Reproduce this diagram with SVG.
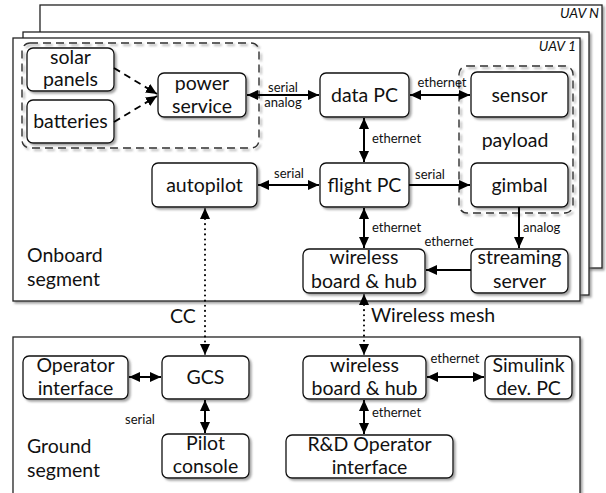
<svg xmlns="http://www.w3.org/2000/svg" width="606" height="493" viewBox="0 0 606 493">
<style>
.frame{fill:#fff;stroke:#222;stroke-width:1.3;filter:url(#sh)}
.node{fill:#fff;stroke:#111;stroke-width:1.3;filter:url(#sh)}
.grp{fill:none;stroke:#333;stroke-width:1.4;stroke-dasharray:8 5;filter:url(#sh)}
.t{font-family:Lato,"Liberation Sans",sans-serif;font-size:19.5px;fill:#111;text-anchor:middle}
.seg{font-family:Lato,"Liberation Sans",sans-serif;font-size:19.5px;fill:#111}
.s{font-family:Lato,"Liberation Sans",sans-serif;font-size:13px;fill:#111}
.m{text-anchor:middle}
.uav{font-family:Lato,"Liberation Sans",sans-serif;font-size:14px;font-style:italic;fill:#111;text-anchor:end}
.c{fill:none;stroke:#000;stroke-width:2}
.d{fill:none;stroke:#000;stroke-width:1.8;stroke-dasharray:7 5}
.dot{fill:none;stroke:#000;stroke-width:2;stroke-dasharray:0.1 5;stroke-linecap:round}
</style>
<defs>
<filter id="sh" x="-10%" y="-10%" width="130%" height="130%">
<feDropShadow dx="2" dy="2" stdDeviation="1.2" flood-color="#666" flood-opacity="0.6"/>
</filter>
<marker id="a" markerUnits="userSpaceOnUse" markerWidth="12" markerHeight="10" refX="11" refY="5" orient="auto-start-reverse">
<path d="M0,0 L11,5 L0,10 z" fill="#000"/>
</marker>
</defs>

<g id="frames">
<rect class="frame" x="40" y="5" width="562" height="263"/>
<text class="uav" x="599" y="18">UAV N</text>
<rect class="frame" x="23" y="32" width="566" height="263"/>
<rect class="frame" x="13" y="38" width="567" height="263"/>
<text class="uav" x="576" y="51">UAV 1</text>
<text class="seg" x="27" y="262">Onboard</text>
<text class="seg" x="27" y="286">segment</text>
<rect class="frame" x="13" y="337" width="567" height="170"/>
<text class="seg" x="27" y="453">Ground</text>
<text class="seg" x="27" y="477">segment</text>
</g>

<g id="power-group"><rect class="grp" x="22" y="43" width="237" height="105" rx="8"/></g>
<g id="payload-group"><rect class="grp" x="459" y="66" width="114" height="147" rx="8"/>
<text class="t" x="515" y="147">payload</text></g>

<g id="solar-panels"><rect class="node" x="27" y="48" width="87" height="43" rx="6"/>
<text class="t" x="70.5" y="64">solar</text><text class="t" x="70.5" y="86">panels</text></g>
<g id="batteries"><rect class="node" x="27" y="100" width="87" height="43" rx="6"/>
<text class="t" x="70.5" y="128">batteries</text></g>
<g id="power-service"><rect class="node" x="158" y="73" width="88" height="44" rx="6"/>
<text class="t" x="202" y="90">power</text><text class="t" x="202" y="113">service</text></g>
<g id="data-pc"><rect class="node" x="320" y="73" width="89" height="44" rx="6"/>
<text class="t" x="364.5" y="102">data PC</text></g>
<g id="sensor"><rect class="node" x="471" y="72" width="97" height="45" rx="6"/>
<text class="t" x="519.5" y="102">sensor</text></g>
<g id="autopilot"><rect class="node" x="152" y="163" width="105" height="44" rx="6"/>
<text class="t" x="204.5" y="192">autopilot</text></g>
<g id="flight-pc"><rect class="node" x="320" y="163" width="89" height="44" rx="6"/>
<text class="t" x="364.5" y="192">flight PC</text></g>
<g id="gimbal"><rect class="node" x="471" y="163" width="97" height="44" rx="6"/>
<text class="t" x="519.5" y="192">gimbal</text></g>
<g id="wireless-onboard"><rect class="node" x="303" y="249" width="122" height="44" rx="6"/>
<text class="t" x="364" y="264">wireless</text><text class="t" x="364" y="288">board &amp; hub</text></g>
<g id="streaming-server"><rect class="node" x="471" y="249" width="97" height="44" rx="6"/>
<text class="t" x="519.5" y="264">streaming</text><text class="t" x="519.5" y="288">server</text></g>

<g id="operator-interface"><rect class="node" x="23" y="356" width="105" height="43" rx="6"/>
<text class="t" x="75.5" y="372">Operator</text><text class="t" x="75.5" y="395">interface</text></g>
<g id="gcs"><rect class="node" x="162" y="356" width="87" height="43" rx="6"/>
<text class="t" x="205.5" y="384">GCS</text></g>
<g id="pilot-console"><rect class="node" x="162" y="434" width="87" height="44" rx="6"/>
<text class="t" x="205.5" y="450">Pilot</text><text class="t" x="205.5" y="473">console</text></g>
<g id="wireless-ground"><rect class="node" x="303" y="356" width="123" height="43" rx="6"/>
<text class="t" x="364.5" y="372">wireless</text><text class="t" x="364.5" y="395">board &amp; hub</text></g>
<g id="simulink"><rect class="node" x="485" y="356" width="87" height="43" rx="6"/>
<text class="t" x="528.5" y="372">Simulink</text><text class="t" x="528.5" y="395">dev. PC</text></g>
<g id="rd-operator"><rect class="node" x="286" y="435" width="167" height="43" rx="6"/>
<text class="t" x="369.5" y="451">R&amp;D Operator</text><text class="t" x="369.5" y="474">interface</text></g>

<g id="connectors">
<line class="d" x1="114" y1="68" x2="157" y2="94" marker-end="url(#a)"/>
<line class="d" x1="114" y1="122" x2="157" y2="96" marker-end="url(#a)"/>
<line class="c" x1="247" y1="95" x2="319" y2="95" marker-start="url(#a)" marker-end="url(#a)"/>
<text class="s m" x="283" y="92">serial</text>
<text class="s m" x="283" y="107">analog</text>
<line class="c" x1="410" y1="95" x2="470" y2="95" marker-start="url(#a)" marker-end="url(#a)"/>
<text class="s m" x="442" y="87">ethernet</text>
<line class="c" x1="364" y1="118" x2="364" y2="162" marker-start="url(#a)" marker-end="url(#a)"/>
<text class="s" x="372" y="143">ethernet</text>
<line class="c" x1="258" y1="185" x2="319" y2="185" marker-start="url(#a)" marker-end="url(#a)"/>
<text class="s m" x="289" y="178">serial</text>
<line class="c" x1="409" y1="185" x2="470" y2="185" marker-end="url(#a)"/>
<text class="s m" x="430" y="179">serial</text>
<line class="c" x1="364" y1="208" x2="364" y2="248" marker-start="url(#a)" marker-end="url(#a)"/>
<text class="s" x="372" y="232">ethernet</text>
<line class="c" x1="519" y1="207" x2="519" y2="248" marker-end="url(#a)"/>
<text class="s" x="523" y="232">analog</text>
<line class="c" x1="471" y1="270" x2="426" y2="270" marker-end="url(#a)"/>
<text class="s m" x="449" y="246">ethernet</text>
<line class="dot" x1="205" y1="219" x2="205" y2="346"/>
<line class="c" x1="205" y1="214" x2="205" y2="208" marker-end="url(#a)" style="stroke-width:1"/>
<line class="c" x1="205" y1="349" x2="205" y2="355" marker-end="url(#a)" style="stroke-width:1"/>
<text class="seg m" x="183" y="323" text-anchor="middle">CC</text>
<line class="dot" x1="364" y1="305" x2="364" y2="346"/>
<line class="c" x1="364" y1="300" x2="364" y2="294" marker-end="url(#a)" style="stroke-width:1"/>
<line class="c" x1="364" y1="349" x2="364" y2="355" marker-end="url(#a)" style="stroke-width:1"/>
<text class="seg" x="371" y="322">Wireless mesh</text>
<line class="c" x1="129" y1="377" x2="161" y2="377" marker-start="url(#a)" marker-end="url(#a)"/>
<line class="c" x1="205" y1="400" x2="205" y2="433" marker-start="url(#a)" marker-end="url(#a)"/>
<text class="s m" x="140" y="424">serial</text>
<line class="c" x1="427" y1="377" x2="484" y2="377" marker-start="url(#a)" marker-end="url(#a)"/>
<text class="s m" x="455" y="363">ethernet</text>
<line class="c" x1="364" y1="400" x2="364" y2="434" marker-start="url(#a)" marker-end="url(#a)"/>
<text class="s" x="372" y="417">ethernet</text>
</g>
</svg>
